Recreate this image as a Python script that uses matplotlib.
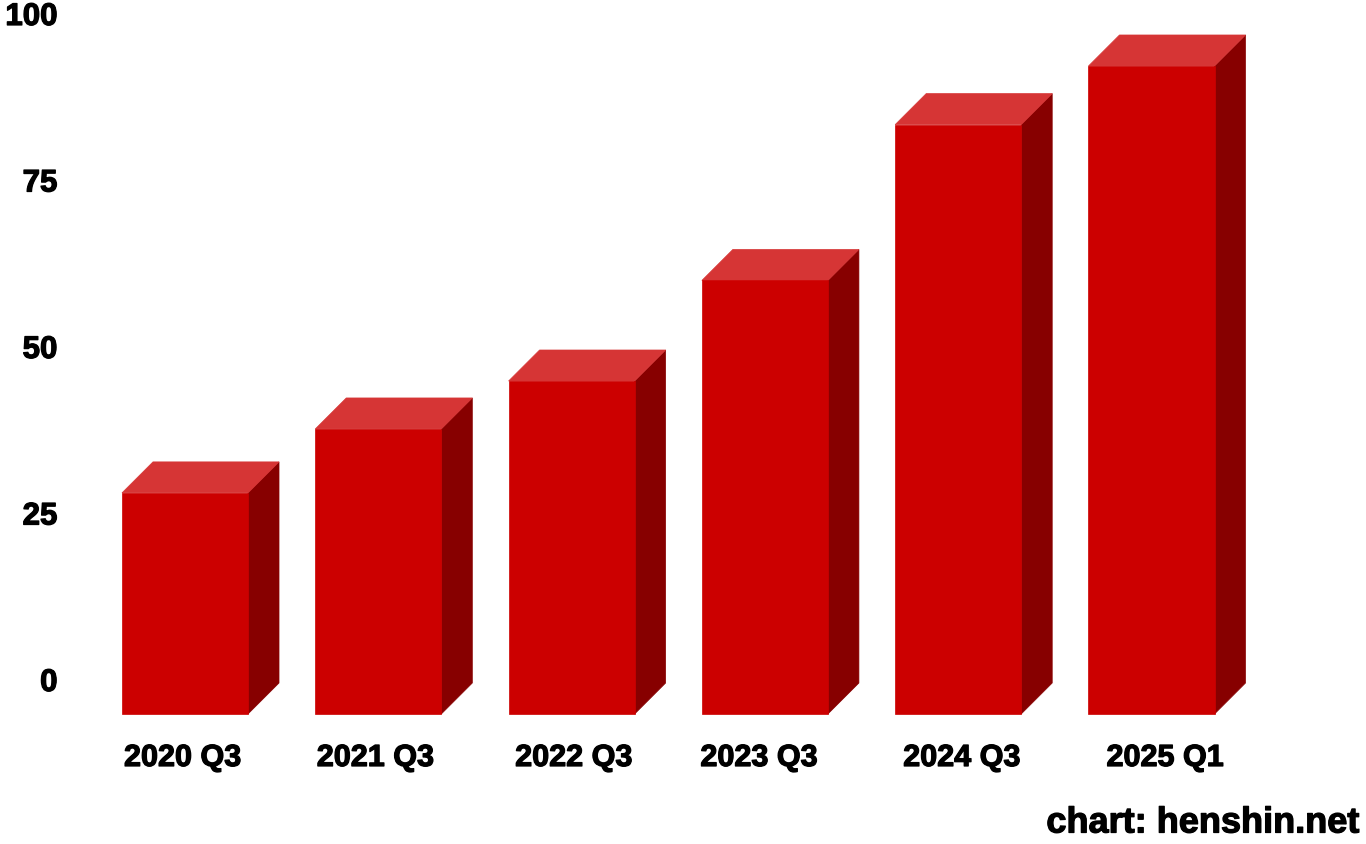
import matplotlib
matplotlib.use('Agg')
import matplotlib.pyplot as plt
from matplotlib.patches import Polygon
from matplotlib import transforms
import matplotlib.patheffects as pe

categories = ['2020 Q3', '2021 Q3', '2022 Q3', '2023 Q3', '2024 Q3', '2025 Q1']
values = [33.2, 42.8, 50.0, 65.1, 88.5, 97.3]
yticks = [0, 25, 50, 75, 100]
source = 'chart: henshin.net'

# small horizontal pixel nudges of the category labels as placed in the original
label_nudge_px = [-2.5, -3, 2, -6, 3.5, 13.5]

FRONT = '#cc0000'
TOP = '#d63535'
SIDE = '#870000'
FONT = ['Liberation Sans', 'DejaVu Sans']
BOLDER = [pe.withStroke(linewidth=0.9, foreground='black')]

W, H = 1366, 844
fig = plt.figure(figsize=(W / 100, H / 100), dpi=100)
fig.patch.set_facecolor('white')
ax = fig.add_axes([0, (H - 683) / H, 1, (683 - 17) / H])
ax.set_xlim(-216 / 193.3, (W - 216) / 193.3)
ax.set_ylim(0, 100)
ax.axis('off')

DEPTH = 31.0   # pixels of 3D depth offset
BW = 0.652     # bar width in category units

ident = transforms.IdentityTransform()


def disp(x, y, front):
    p = ax.transData.transform((x, y))
    if front:
        p = p - DEPTH
    return p


for i, v in enumerate(values):
    ftl = disp(i - BW / 2, v, True)
    ftr = disp(i + BW / 2, v, True)
    fbl = disp(i - BW / 2, 0, True)
    fbr = disp(i + BW / 2, 0, True)
    btl = disp(i - BW / 2, v, False)
    btr = disp(i + BW / 2, v, False)
    bbr = disp(i + BW / 2, 0, False)
    side = Polygon([ftr, btr, bbr, fbr], closed=True, facecolor=SIDE,
                   edgecolor=SIDE, lw=0.5, transform=ident, clip_on=False)
    top = Polygon([ftl, ftr, btr, btl], closed=True, facecolor=TOP,
                  edgecolor=TOP, lw=0.5, transform=ident, clip_on=False)
    front = Polygon([fbl, fbr, ftr, ftl], closed=True, facecolor=FRONT,
                    edgecolor=FRONT, lw=0.5, transform=ident, clip_on=False)
    for p in (side, top, front):
        ax.add_patch(p)

# y tick labels
ytrans = transforms.blended_transform_factory(ax.transAxes, ax.transData)
for t in yticks:
    ax.text(57.5 / W, t, str(t), transform=ytrans, ha='right', va='center',
            fontsize=22.5, fontweight='bold', family=FONT, color='black',
            path_effects=BOLDER)

# x tick labels (under the front faces)
for i, c in enumerate(categories):
    tr = transforms.offset_copy(ax.transData, fig=fig, x=-DEPTH + label_nudge_px[i],
                                y=0, units='dots')
    xtrans = transforms.blended_transform_factory(tr, fig.transFigure)
    ax.text(i, (H - 758) / H, c, transform=xtrans, ha='center', va='center',
            fontsize=22, fontweight='bold', family=FONT, color='black',
            path_effects=BOLDER)

fig.text(1360 / W, (H - 823) / H, source, ha='right', va='center',
         fontsize=26, fontweight='bold', family=FONT, color='black',
         path_effects=BOLDER)

fig.savefig('out.png', dpi=100, facecolor='white')
